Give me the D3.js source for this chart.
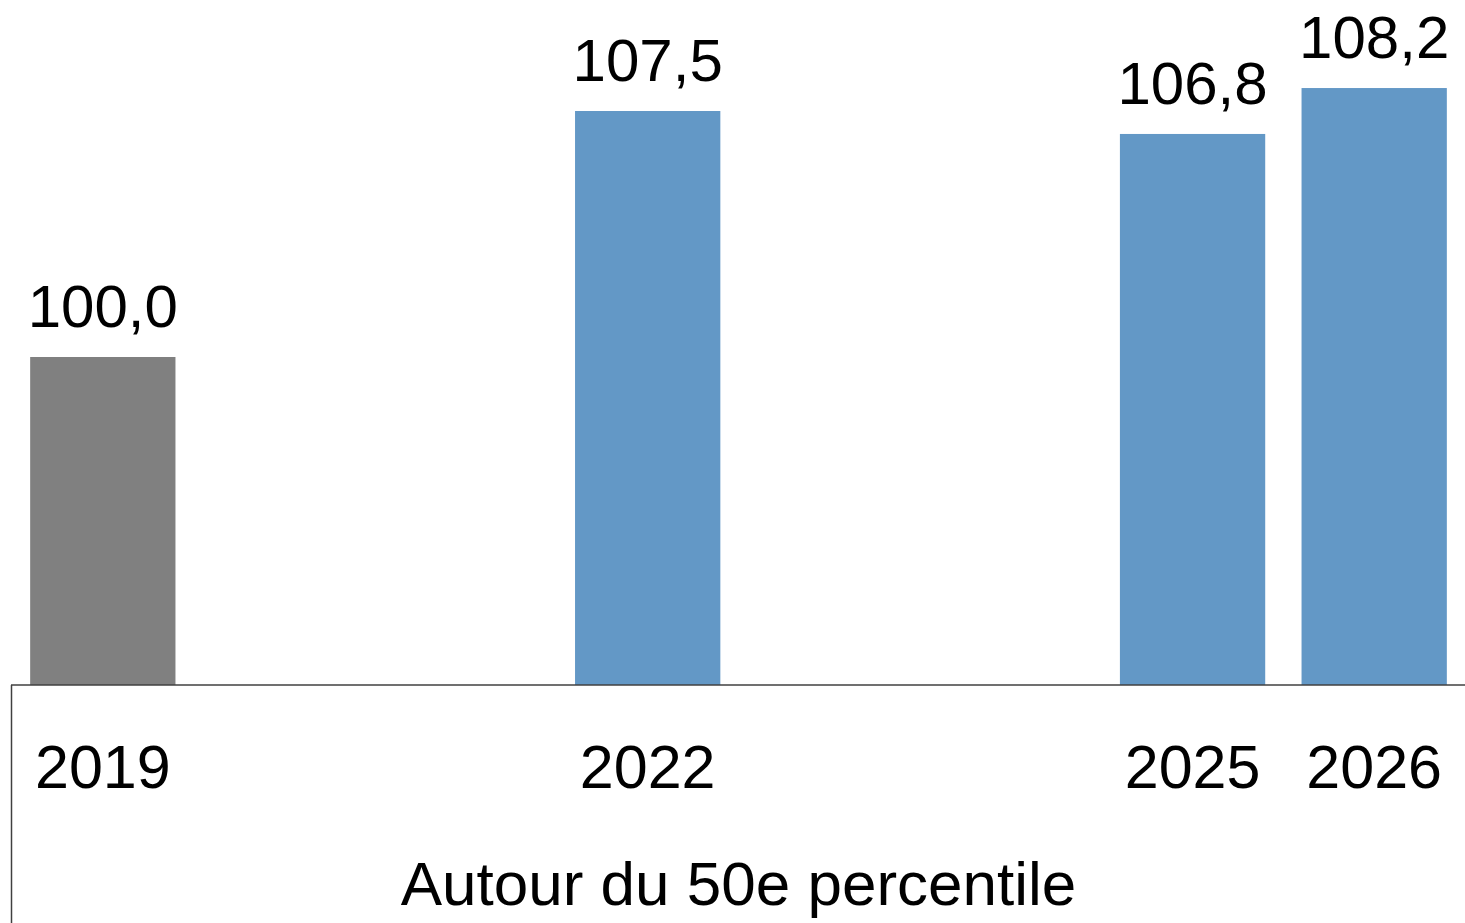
<!DOCTYPE html>
<html>
<head>
<meta charset="utf-8">
<script src="https://cdn.jsdelivr.net/npm/d3@7"></script>
<style>
  html, body { margin: 0; padding: 0; background: #fff; }
  .lbl { font-family: "Liberation Sans", Arial, sans-serif; fill: #000; }
</style>
</head>
<body>
<div id="chart"></div>
<script>
// slots for every year, only some have a bar
const years = ["2019", "2020", "2021", "2022", "2023", "2024", "2025", "2026"];
const shownYears = ["2019", "2022", "2025", "2026"];
const values = [100.0, 107.5, 106.8, 108.2];
const groupLabel = "Autour du 50e percentile";
const baseYear = "2019";

const width = 1465, height = 923;
const margin = {top: 29, left: 12, bottom: 238};
const baseline = height - margin.bottom;

const data = shownYears.map((y, i) => ({year: y, value: values[i]}));

const svg = d3.select("#chart").append("svg")
  .attr("width", width)
  .attr("height", height);

const x = d3.scaleBand()
  .domain(years)
  .range([margin.left, width])
  .paddingInner(0.2)
  .paddingOuter(0.1);

const y = d3.scaleLinear()
  .domain([90, 110])
  .range([baseline, margin.top]);

const fmt = v => d3.format(".1f")(v).replace(".", ",");

svg.selectAll("rect.bar")
  .data(data)
  .enter()
  .append("rect")
  .attr("class", "bar")
  .attr("x", d => x(d.year))
  .attr("y", d => y(d.value))
  .attr("width", x.bandwidth())
  .attr("height", d => baseline - y(d.value))
  .attr("fill", d => d.year === baseYear ? "#808080" : "#6398c6");

svg.selectAll("text.val")
  .data(data)
  .enter()
  .append("text")
  .attr("class", "lbl val")
  .attr("x", d => x(d.year) + x.bandwidth() / 2)
  .attr("y", d => y(d.value) - 30)
  .attr("text-anchor", "middle")
  .attr("font-size", 60)
  .text(d => fmt(d.value));

// category axis, drawn as a box like the office chart
const xAxis = svg.append("g")
  .attr("transform", "translate(0," + baseline + ")")
  .call(d3.axisBottom(x).tickValues(shownYears).tickSize(0).tickPadding(0));
xAxis.select(".domain").remove();
xAxis.selectAll("text")
  .attr("class", "lbl")
  .attr("font-size", 61)
  .attr("dy", null)
  .attr("y", 103);

svg.append("line")
  .attr("x1", margin.left - 1).attr("x2", width)
  .attr("y1", baseline).attr("y2", baseline)
  .attr("stroke", "#404040").attr("stroke-width", 1.5);
svg.append("line")
  .attr("x1", margin.left - 0.5).attr("x2", margin.left - 0.5)
  .attr("y1", baseline).attr("y2", height)
  .attr("stroke", "#404040").attr("stroke-width", 1.5);

svg.append("text")
  .attr("class", "lbl")
  .attr("x", (margin.left + width) / 2)
  .attr("y", 905)
  .attr("text-anchor", "middle")
  .attr("font-size", 62)
  .text(groupLabel);
</script>
</body>
</html>
